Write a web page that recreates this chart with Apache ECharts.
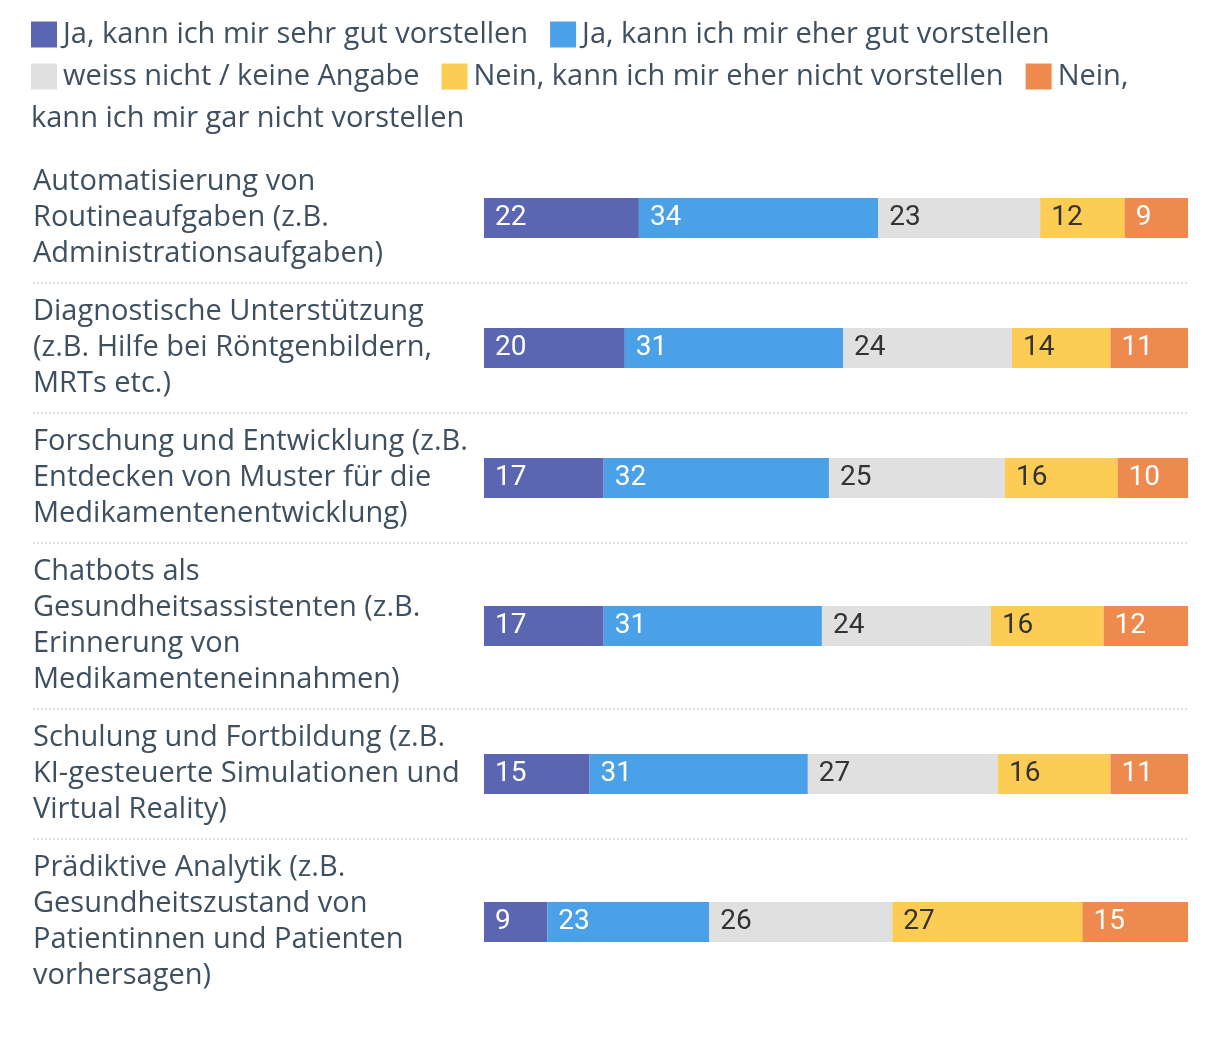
<!DOCTYPE html>
<html><head><meta charset="utf-8">
<script src="https://cdn.jsdelivr.net/npm/echarts@6/dist/echarts.min.js"></script>
<style>html,body{margin:0;padding:0;background:#fff}#c{width:1220px;height:1044px}</style>
</head><body><div id="c"></div>
<script>
const seriesNames = [
  'Ja, kann ich mir sehr gut vorstellen',
  'Ja, kann ich mir eher gut vorstellen',
  'weiss nicht / keine Angabe',
  'Nein, kann ich mir eher nicht vorstellen',
  'Nein, kann ich mir gar nicht vorstellen'
];
const categories = [
  'Automatisierung von\nRoutineaufgaben (z.B.\nAdministrationsaufgaben)',
  'Diagnostische Unterstützung\n(z.B. Hilfe bei Röntgenbildern,\nMRTs etc.)',
  'Forschung und Entwicklung (z.B.\nEntdecken von Muster für die\nMedikamentenentwicklung)',
  'Chatbots als\nGesundheitsassistenten (z.B.\nErinnerung von\nMedikamenteneinnahmen)',
  'Schulung und Fortbildung (z.B.\nKI-gesteuerte Simulationen und\nVirtual Reality)',
  'Prädiktive Analytik (z.B.\nGesundheitszustand von\nPatientinnen und Patienten\nvorhersagen)'
];
const sehrGut   = [22, 20, 17, 17, 15, 9];
const eherGut   = [34, 31, 32, 31, 31, 23];
const weissNich = [23, 24, 25, 24, 27, 26];
const eherNicht = [12, 14, 16, 16, 16, 27];
const garNicht  = [9, 11, 10, 12, 11, 15];
const values = [sehrGut, eherGut, weissNich, eherNicht, garNicht];

const colors = ['#5b66b3', '#4ba1e8', '#e0e0e0', '#fccc55', '#ee8a4e'];
const labelColors = ['#ffffff', '#ffffff', '#333333', '#333333', '#ffffff'];
const FONT = '"Open Sans"';
const NUMFONT = 'Roboto';
const FS = 29;
const TXT = '#3e5060';

const LINE_H = 36, PAD = 11, START = 153, BAR_H = 40;
const GRID_L = 484, GRID_R = 32;

const grids = [], xAxes = [], yAxes = [], series = [], graphics = [];
let y = START;
categories.forEach((cat, i) => {
  const lines = cat.split('\n').length;
  const h = lines * LINE_H + 2 * PAD;
  const center = y + h / 2;
  grids.push({left: GRID_L, right: GRID_R, top: center - BAR_H / 2, height: BAR_H, containLabel: false});
  xAxes.push({type: 'value', gridIndex: i, min: 0, max: 100, show: false});
  yAxes.push({type: 'category', gridIndex: i, data: [cat],
    axisLine: {show: false}, axisTick: {show: false},
    axisLabel: {align: 'left', verticalAlign: 'middle', margin: GRID_L - 33,
      fontFamily: FONT, fontSize: FS, lineHeight: LINE_H, color: TXT, padding: [3, 0, 0, 0]}});
  values.forEach((arr, s) => {
    series.push({type: 'bar', name: seriesNames[s], stack: 'r' + i,
      xAxisIndex: i, yAxisIndex: i, barWidth: BAR_H,
      itemStyle: {color: colors[s]},
      label: {show: true, position: 'insideLeft', distance: 11,
        color: labelColors[s], fontFamily: NUMFONT, fontSize: 28, padding: [3, 0, 0, 0]},
      emphasis: {disabled: true},
      data: [arr[i]]});
  });
  y += h;
  if (i < categories.length - 1) {
    graphics.push({type: 'line', shape: {x1: 33, y1: y, x2: 1188, y2: y},
      style: {stroke: '#d6d6d6', lineWidth: 1.5, lineDash: [2, 2]}, silent: true});
  }
});

graphics.push({type: 'text', left: 31, top: 104,
  style: {text: 'kann ich mir gar nicht vorstellen', fontFamily: FONT, fontSize: FS, fill: TXT}});

const legendBase = {orient: 'horizontal', left: 31, padding: 0, itemWidth: 26, itemHeight: 26, itemGap: 22,
  icon: 'rect', selectedMode: false,
  textStyle: {fontFamily: FONT, fontSize: FS, color: TXT, padding: [0, 0, 0, 1]}};

const chart = echarts.init(document.getElementById('c'));
chart.setOption({
  animation: false,
  color: colors,
  legend: [
    Object.assign({}, legendBase, {top: 20, data: seriesNames.slice(0, 2)}),
    Object.assign({}, legendBase, {top: 62, data: seriesNames.slice(2),
      formatter: n => n === seriesNames[4] ? 'Nein,' : n})
  ],
  grid: grids, xAxis: xAxes, yAxis: yAxes, series: series,
  graphic: graphics
});
</script></body></html>
